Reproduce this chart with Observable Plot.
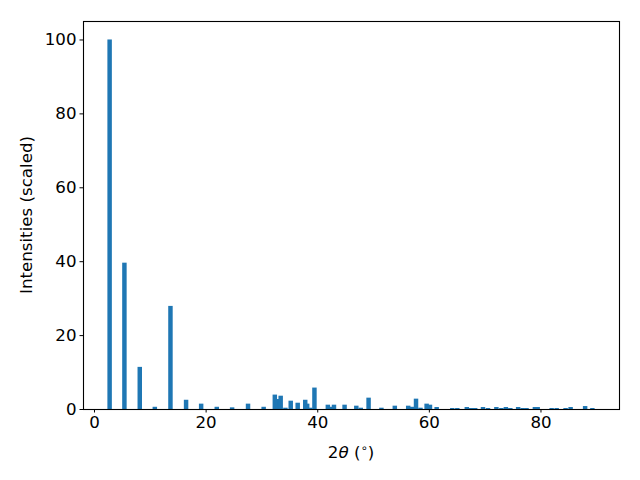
<!DOCTYPE html>
<html>
<head>
<meta charset="utf-8">
<script src="https://cdn.jsdelivr.net/npm/d3@7"></script>
<script src="https://cdn.jsdelivr.net/npm/@observablehq/plot@0.6"></script>
<style>
  body { margin: 0; background: #fff; }
  #chart svg { display: block; }
</style>
</head>
<body>
<div id="chart"></div>
<script>
// Peak positions (2θ, degrees) and scaled intensities, in drawing order
const twoTheta = [2.8, 5.45, 8.2, 10.9, 13.7, 16.5, 19.2, 22.0, 24.75, 27.6, 30.4,
  33.0, 32.4, 33.45, 34.3, 35.25, 36.5, 38.2, 37.85, 38.75, 39.5, 41.9, 42.6, 43.0, 44.9,
  47.0, 47.8, 49.2, 51.5, 53.9, 56.3, 57.0, 57.7, 58.5, 59.6, 60.2, 61.4, 64.2, 65.1,
  66.8, 67.6, 68.3, 69.7, 70.6, 72.1, 73.0, 73.8, 74.6, 76.0, 76.8, 77.5, 79.0, 79.5,
  82.0, 82.9, 84.5, 85.4, 88.0, 89.3];
const intensity = [100, 39.6, 11.4, 0.6, 27.9, 2.5, 1.45, 0.6, 0.45, 1.45, 0.6,
  2.7, 3.9, 3.6, 0.35, 2.25, 1.7, 1.45, 2.5, 0.35, 5.8, 1.17, 0.6, 1.17, 1.17,
  0.9, 0.35, 3.07, 0.35, 0.9, 0.9, 0.6, 2.8, 0.35, 1.45, 1.17, 0.54, 0.27, 0.27,
  0.54, 0.27, 0.27, 0.54, 0.27, 0.54, 0.27, 0.54, 0.27, 0.54, 0.27, 0.27, 0.54, 0.54,
  0.27, 0.27, 0.27, 0.54, 0.8, 0.27];
const xTicks = [0, 20, 40, 60, 80];
const yTicks = [0, 20, 40, 60, 80, 100];
const yLabel = "Intensities (scaled)";

const barWidth = 0.8;
const idx = d3.range(twoTheta.length);
const font = "DejaVu Sans, sans-serif";
const fs = 16.67;

const chart = Plot.plot({
  width: 640,
  height: 480,
  marginLeft: 83,
  marginRight: 21,
  marginTop: 21,
  marginBottom: 71,
  style: {fontFamily: font, fontSize: fs + "px", color: "black", background: "white"},
  x: {domain: [-1.97, 94.07]},
  y: {domain: [0, 105]},
  marks: [
    Plot.rectY(idx, {
      x1: i => twoTheta[i] - barWidth / 2,
      x2: i => twoTheta[i] + barWidth / 2,
      y: i => intensity[i],
      fill: "#1f77b4"
    }),
    Plot.frame({stroke: "black", strokeWidth: 1.1}),
    Plot.axisX({ticks: xTicks, tickSize: 3.5, tickPadding: 3.5, label: null, fontSize: fs}),
    Plot.axisY({ticks: yTicks, tickSize: 3.5, tickPadding: 3.5, label: null, fontSize: fs})
  ]
});

const svg = d3.select(chart);
// x axis label: 2θ (°) with italic θ and superscript degree
const xl = svg.append("text")
  .attr("x", 351).attr("y", 458)
  .attr("text-anchor", "middle")
  .attr("font-family", font).attr("font-size", fs).attr("fill", "black");
xl.append("tspan").text("2");
xl.append("tspan").attr("font-style", "italic").text("θ");
xl.append("tspan").text(" (");
xl.append("tspan").attr("font-size", 11.5).attr("dy", -6).text("∘");
xl.append("tspan").attr("dy", 6).text(")");

svg.append("text")
  .attr("transform", "translate(32,215) rotate(-90)")
  .attr("text-anchor", "middle")
  .attr("font-family", font).attr("font-size", fs).attr("fill", "black")
  .text(yLabel);

document.getElementById("chart").appendChild(chart);
</script>
</body>
</html>
